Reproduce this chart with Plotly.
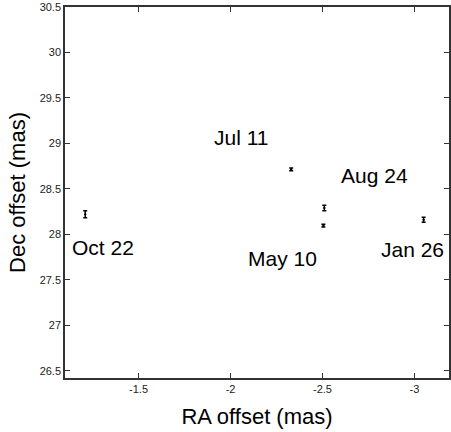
import plotly.graph_objects as go

epochs = ["Oct 22", "Jul 11", "Aug 24", "May 10", "Jan 26"]
ra = [-1.21, -2.33, -2.51, -2.505, -3.05]
dec = [28.22, 28.715, 28.29, 28.095, 28.16]
dec_err = [0.038, 0.015, 0.03, 0.015, 0.028]
ra_err = [0.006, 0.006, 0.006, 0.006, 0.006]

# label positions (data coords)
label_x = [-1.305, -2.059, -2.783, -2.282, -2.989]
label_y = [27.852, 29.065, 28.643, 27.731, 27.836]

fig = go.Figure()
fig.add_trace(go.Scatter(
    x=ra, y=dec, mode="markers",
    marker=dict(size=2, color="black"),
    error_y=dict(type="data", array=dec_err, visible=True, color="black", thickness=1.5, width=2),
    error_x=dict(type="data", array=ra_err, visible=True, color="black", thickness=1, width=0),
    showlegend=False,
))
for t, lx, ly in zip(epochs, label_x, label_y):
    fig.add_annotation(x=lx, y=ly, text=t, showarrow=False,
                       font=dict(family="Liberation Sans, Arial", size=21, color="black"))

axis_common = dict(
    showgrid=False, zeroline=False, showline=True, linecolor="#333", linewidth=1.5,
    mirror="allticks", ticks="inside", ticklen=5, tickcolor="#333", tickwidth=1,
    tickfont=dict(family="Liberation Sans, Arial", size=11, color="#222"),
)
fig.update_xaxes(range=[-1.1, -3.188], tickvals=[-1.5, -2, -2.5, -3],
                 ticktext=["-1.5", "-2", "-2.5", "-3"],
                 title=dict(text="RA offset (mas)", font=dict(family="Liberation Sans, Arial", size=22, color="black"), standoff=15),
                 **axis_common)
fig.update_yaxes(range=[26.42, 30.5], tickvals=[26.5, 27, 27.5, 28, 28.5, 29, 29.5, 30, 30.5],
                 ticktext=["26.5", "27", "27.5", "28", "28.5", "29", "29.5", "30", "30.5"],
                 title=dict(text="Dec offset (mas)", font=dict(family="Liberation Sans, Arial", size=22, color="black"), standoff=8),
                 **axis_common)
fig.update_layout(width=451, height=432, margin=dict(l=65, r=0, t=7, b=54),
                  plot_bgcolor="white", paper_bgcolor="white")
fig.write_html("out.html")
